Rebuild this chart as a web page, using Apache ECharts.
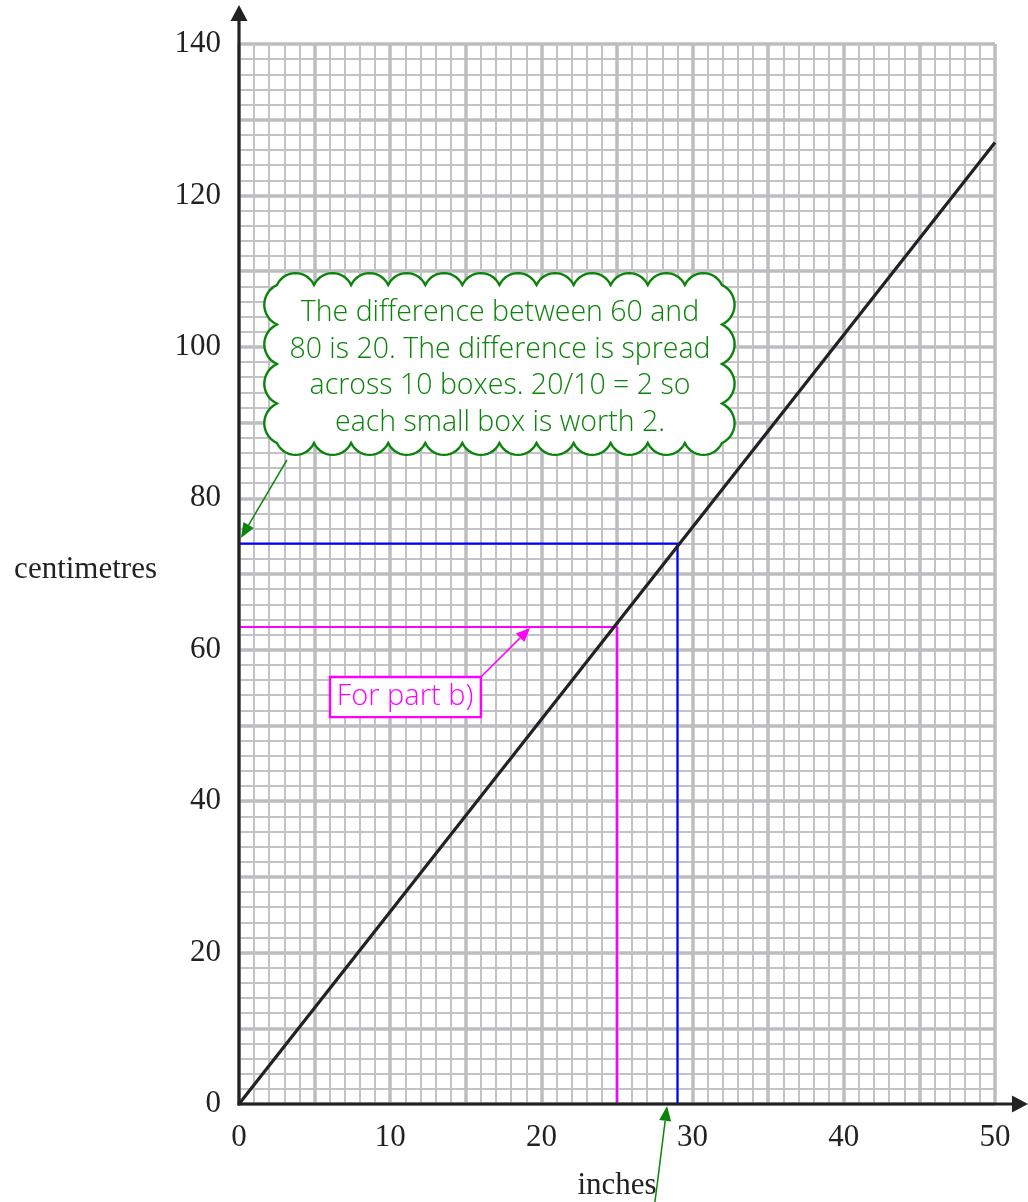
<!DOCTYPE html>
<html><head><meta charset="utf-8">
<script src="https://cdn.jsdelivr.net/npm/echarts@6/dist/echarts.min.js"></script>
<style>html,body{margin:0;padding:0;background:#fff}#c{width:1028px;height:1202px}</style>
</head><body><div id="c"></div>
<script>
// ---- data ----
const conversionLine = [[0, 0], [50, 127]];      // inches -> centimetres
const partA = [[0, 74], [29, 74], [29, 0]];      // blue reading
const partB = [[0, 63], [25, 63], [25, 0]];      // magenta reading
const xLabelStep = 10;
const yLabelStep = 20;
const cloudText = 'The difference between 60 and\n80 is 20. The difference is spread\nacross 10 boxes. 20/10 = 2 so\neach small box is worth 2.';
const partBText = 'For part b)';

const serif = '"Liberation Serif", "DejaVu Serif", serif';
const sans = '"Open Sans", "Noto Sans", sans-serif';
const GREEN = '#0b840b';
const MAGENTA = '#ff00ff';

const chart = echarts.init(document.getElementById('c'), null, {renderer: 'canvas'});
chart.setOption({
  animation: false,
  backgroundColor: '#fff',
  grid: {left: 239, right: 33, top: 44, bottom: 98, containLabel: false, outerBoundsMode: 'none'},
  xAxis: {
    type: 'value', min: 0, max: 50, interval: 5,
    axisLine: {show: false}, axisTick: {show: false},
    axisLabel: {formatter: v => (v % xLabelStep === 0 ? String(v) : ''), fontFamily: serif, fontSize: 31, color: '#222', margin: 18},
    splitLine: {show: true, lineStyle: {color: '#bdbdc1', width: 3.5}},
    minorTick: {show: false, splitNumber: 5},
    minorSplitLine: {show: true, lineStyle: {color: '#c3c3c7', width: 2}},
    name: 'inches', nameLocation: 'middle', nameGap: 66,
    nameTextStyle: {fontFamily: serif, fontSize: 31, color: '#222'}
  },
  yAxis: {
    type: 'value', min: 0, max: 140, interval: 10,
    axisLine: {show: false}, axisTick: {show: false},
    axisLabel: {formatter: v => (v % yLabelStep === 0 ? String(v) : ''), fontFamily: serif, fontSize: 31, color: '#222', margin: 18},
    splitLine: {show: true, lineStyle: {color: '#bdbdc1', width: 3.5}},
    minorTick: {show: false, splitNumber: 5},
    minorSplitLine: {show: true, lineStyle: {color: '#c3c3c7', width: 2}}
  },
  series: [
    {type: 'line', data: partA, showSymbol: false, lineStyle: {color: '#0000ff', width: 2.2}, z: 3, silent: true},
    {type: 'line', data: partB, showSymbol: false, lineStyle: {color: MAGENTA, width: 2.2}, z: 3, silent: true},
    {type: 'line', data: conversionLine, showSymbol: false, lineStyle: {color: '#222', width: 3.2}, z: 4, silent: true}
  ]
});

const P = (x, y) => chart.convertToPixel({gridIndex: 0}, [x, y]);

function arrow(from, to, color, width, len, half) {
  const a = P(from[0], from[1]), b = P(to[0], to[1]);
  const dx = b[0] - a[0], dy = b[1] - a[1], L = Math.hypot(dx, dy);
  const ux = dx / L, uy = dy / L;
  const bx = b[0] - ux * len, by = b[1] - uy * len;
  return [
    {type: 'line', z: 20, shape: {x1: a[0], y1: a[1], x2: bx, y2: by}, style: {stroke: color, lineWidth: width}},
    {type: 'polygon', z: 20, shape: {points: [[b[0], b[1]], [bx - uy * half, by + ux * half], [bx + uy * half, by - ux * half]]}, style: {fill: color}}
  ];
}

// scalloped outline as a polygon: arcs bulging outward between successive points
function cloudPoints(L, T, R, B, nx, ny) {
  const pts = [];
  function bumps(x0, y0, x1, y1, n) {
    const sx = (x1 - x0) / n, sy = (y1 - y0) / n;
    const w = Math.hypot(sx, sy), r = w * 0.55;
    const ux = sx / w, uy = sy / w;
    const nxo = uy, nyo = -ux;
    const h = Math.sqrt(r * r - (w / 2) * (w / 2));
    const steps = 14;
    for (let i = 0; i < n; i++) {
      const ax = x0 + sx * i, ay = y0 + sy * i;
      const mx = ax + sx / 2, my = ay + sy / 2;
      const cx = mx - nxo * h, cy = my - nyo * h;
      const angStart = Math.atan2(ay - cy, ax - cx);
      const angEnd = Math.atan2(ay + sy - cy, ax + sx - cx);
      let d = angEnd - angStart;
      while (d <= -Math.PI) d += 2 * Math.PI;
      while (d > Math.PI) d -= 2 * Math.PI;
      const mid = angStart + d / 2;
      const midPt = [cx + r * Math.cos(mid), cy + r * Math.sin(mid)];
      const outward = (midPt[0] - mx) * nxo + (midPt[1] - my) * nyo > 0;
      if (!outward) d = d > 0 ? d - 2 * Math.PI : d + 2 * Math.PI;
      for (let k = 0; k <= steps; k++) {
        const a = angStart + d * k / steps;
        pts.push([cx + r * Math.cos(a), cy + r * Math.sin(a)]);
      }
    }
  }
  bumps(L, T, R, T, nx);
  bumps(R, T, R, B, ny);
  bumps(R, B, L, B, nx);
  bumps(L, B, L, T, ny);
  return pts;
}

const o = P(0, 0);
const yTip = P(0, 145.15), xTip = P(52.18, 0);
const c1 = P(2.51, 108.17), c2 = P(31.94, 87.30);
const cc = P(17.26, 97.2);
const mb1 = P(6.02, 56.4), mb2 = P(16.0, 51.1);
const mt = P(10.98, 53.8);

const graphic = [
  // axes with arrows
  {type: 'line', z: 10, shape: {x1: o[0], y1: o[1] + 1.5, x2: yTip[0], y2: yTip[1] + 12}, style: {stroke: '#222', lineWidth: 3.2}},
  {type: 'polygon', z: 10, shape: {points: [[yTip[0], yTip[1]], [yTip[0] - 8.5, yTip[1] + 16], [yTip[0] + 8.5, yTip[1] + 16]]}, style: {fill: '#222'}},
  {type: 'line', z: 10, shape: {x1: o[0] - 1.5, y1: o[1], x2: xTip[0] - 12, y2: xTip[1]}, style: {stroke: '#222', lineWidth: 3.2}},
  {type: 'polygon', z: 10, shape: {points: [[xTip[0], xTip[1]], [xTip[0] - 16, xTip[1] - 8.5], [xTip[0] - 16, xTip[1] + 8.5]]}, style: {fill: '#222'}},
  // y axis name
  {type: 'text', z: 10, style: {text: 'centimetres', x: 157, y: P(0, 70.5)[1], align: 'right', verticalAlign: 'middle', font: '31px ' + serif, fill: '#222'}},
  // cloud callout
  {type: 'polygon', z: 15, shape: {points: cloudPoints(c1[0], c1[1], c2[0], c2[1], 12, 4)}, style: {fill: '#fff', stroke: GREEN, lineWidth: 2.4}},
  {type: 'text', z: 16, style: {text: cloudText, x: cc[0], y: cc[1], align: 'center', verticalAlign: 'middle', font: '300 28.5px ' + sans, lineHeight: 36.5, fill: GREEN}},
  ...arrow([3.17, 85.06], [0.13, 74.76], GREEN, 1.5, 15, 6),
  ...arrow([27.51, -12.94], [28.31, -0.26], GREEN, 1.5, 15, 6),
  // part b box
  {type: 'rect', z: 15, shape: {x: mb1[0], y: mb1[1], width: mb2[0] - mb1[0], height: mb2[1] - mb1[1]}, style: {fill: '#fff', stroke: MAGENTA, lineWidth: 2.4}},
  {type: 'text', z: 16, style: {text: partBText, x: mt[0], y: mt[1], align: 'center', verticalAlign: 'middle', font: '300 29px ' + sans, fill: MAGENTA}},
  ...arrow([16.0, 56.4], [19.25, 62.87], MAGENTA, 1.5, 14, 6)
];
chart.setOption({graphic: graphic});
</script></body></html>
